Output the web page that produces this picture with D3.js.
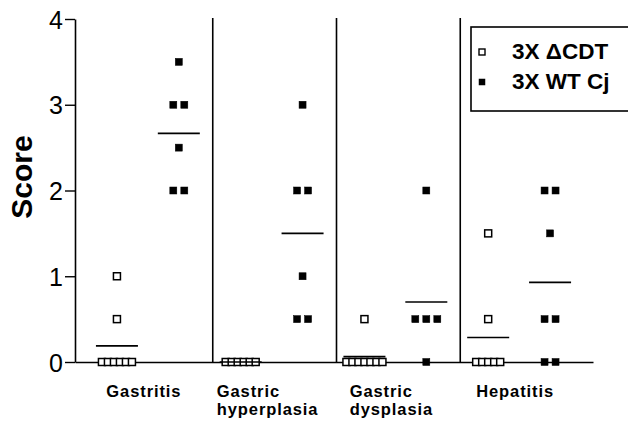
<!DOCTYPE html>
<html>
<head>
<meta charset="utf-8">
<script src="https://cdn.jsdelivr.net/npm/d3@7"></script>
<style>
  body { margin: 0; background: #fff; }
  svg { display: block; }
  svg text { font-family: "Liberation Sans", Arial, sans-serif; }
</style>
</head>
<body>
<svg id="chart" width="628" height="423"></svg>
<script>
// categories (multi-line labels split on \n)
const categories = ["Gastritis", "Gastric\nhyperplasia", "Gastric\ndysplasia", "Hepatitis"];
const seriesNames = ["3X \u0394CDT", "3X WT Cj"];

// individual scores per category
const cdtScores = [
  [1, 0.5, 0, 0, 0, 0, 0, 0],
  [0, 0, 0, 0, 0, 0],
  [0.5, 0, 0, 0, 0, 0, 0, 0],
  [1.5, 0.5, 0, 0, 0, 0, 0]
];
const wtScores = [
  [3.5, 3, 3, 2.5, 2, 2],
  [3, 2, 2, 1, 0.5, 0.5],
  [2, 0.5, 0.5, 0.5, 0],
  [2, 2, 1.5, 0.5, 0.5, 0, 0]
];
const yTicks = [0, 1, 2, 3, 4];

const svg = d3.select("#chart");

// x scale over categories, then a sub scale for the two series
const x = d3.scaleBand()
  .domain(d3.range(categories.length))
  .range([86, 581]);

const xSub = d3.scalePoint()
  .domain([0, 1])
  .range([0, x.bandwidth()])
  .padding(0.5);

const y = d3.scaleLinear()
  .domain([0, 4])
  .range([362, 19]);

// y axis
const yAxis = svg.append("g")
  .attr("transform", "translate(75,0)")
  .call(d3.axisLeft(y).tickValues(yTicks).tickFormat(d3.format("d"))
    .tickSize(10).tickPadding(2).tickSizeOuter(0));
yAxis.attr("font-family", null);
yAxis.select(".domain").attr("stroke", "#000").attr("stroke-width", 1.6);
yAxis.selectAll(".tick line").attr("stroke", "#000").attr("stroke-width", 1.4);
yAxis.selectAll(".tick text")
  .attr("font-size", 25)
  .attr("fill", "#000")
  .attr("dy", "0.36em");

// x axis line (no ticks)
const xAxis = svg.append("g")
  .attr("transform", "translate(0," + y(0) + ")")
  .call(d3.axisBottom(d3.scaleLinear().range([75, 593])).tickValues([]).tickSizeOuter(0));
xAxis.select(".domain").attr("stroke", "#000").attr("stroke-width", 1.6);

// vertical separators between categories
svg.append("g")
  .selectAll("line")
  .data(d3.range(1, categories.length))
  .join("line")
  .attr("x1", (i) => x(i) + 3)
  .attr("x2", (i) => x(i) + 3)
  .attr("y1", y(0))
  .attr("y2", y(4) - 1)
  .attr("stroke", "#000")
  .attr("stroke-width", 1.6);

// y axis title
svg.append("text")
  .attr("transform", "translate(32,177) rotate(-90)")
  .attr("text-anchor", "middle")
  .attr("font-size", 30)
  .attr("font-weight", "bold")
  .text("Score");

// category labels, one text per line, left-aligned within each label
const labelGroups = svg.append("g")
  .selectAll("g")
  .data(categories)
  .join("g");

labelGroups.each(function (d, i) {
  const g = d3.select(this);
  const lines = g.selectAll("text")
    .data(d.split("\n"))
    .join("text")
    .attr("font-size", 16.5)
    .attr("font-weight", "bold")
    .attr("letter-spacing", 0.9)
    .attr("y", (line, j) => 397 + j * 18)
    .text((line) => line);
  let widest = 0;
  lines.each(function () {
    widest = Math.max(widest, this.getComputedTextLength());
  });
  lines.attr("x", x(i) + x.bandwidth() / 2 - widest / 2 - 4);
});

// lay out points: equal values spread side by side
function layout(values, cat, s, step) {
  const groups = d3.groups(values, (v) => v);
  const out = [];
  groups.forEach(([v, arr]) => {
    arr.forEach((_, k) => {
      out.push({
        value: v,
        x: x(cat) + xSub(s) + (k - (arr.length - 1) / 2) * step,
        series: s
      });
    });
  });
  return out;
}

const seriesData = [cdtScores, wtScores];
const pts = [];
const means = [];
seriesData.forEach((series, s) => {
  series.forEach((vals, c) => {
    pts.push(...layout(vals, c, s, s === 0 ? 6 : 11));
    means.push({ cat: c, series: s, mean: d3.mean(vals) });
  });
});

const sz = 7;
svg.append("g")
  .selectAll("rect")
  .data(pts)
  .join("rect")
  .attr("x", (d) => d.x - sz / 2)
  .attr("y", (d) => y(d.value) - sz / 2)
  .attr("width", sz)
  .attr("height", sz)
  .attr("fill", (d) => (d.series === 0 ? "#fff" : "#000"))
  .attr("stroke", "#000")
  .attr("stroke-width", (d) => (d.series === 0 ? 1.5 : 0.5));

// mean lines
svg.append("g")
  .selectAll("line")
  .data(means)
  .join("line")
  .attr("x1", (d) => x(d.cat) + xSub(d.series) - 21)
  .attr("x2", (d) => x(d.cat) + xSub(d.series) + 21)
  .attr("y1", (d) => y(d.mean))
  .attr("y2", (d) => y(d.mean))
  .attr("stroke", "#000")
  .attr("stroke-width", 1.6);

// legend
const legend = svg.append("g");
legend.append("rect")
  .attr("x", 471)
  .attr("y", 27)
  .attr("width", 170)
  .attr("height", 84)
  .attr("fill", "#fff")
  .attr("stroke", "#000")
  .attr("stroke-width", 1.6);

const items = legend.selectAll("g")
  .data(seriesNames)
  .join("g")
  .attr("transform", (d, i) => "translate(0," + (52 + i * 30) + ")");

items.append("rect")
  .attr("x", 479)
  .attr("y", -3)
  .attr("width", 6)
  .attr("height", 6)
  .attr("fill", (d, i) => (i === 0 ? "#fff" : "#000"))
  .attr("stroke", "#000")
  .attr("stroke-width", (d, i) => (i === 0 ? 1.4 : 0.5));

items.append("text")
  .attr("x", 512)
  .attr("y", 7)
  .attr("font-size", 22.5)
  .attr("font-weight", "bold")
  .text((d) => d);
</script>
</body>
</html>
